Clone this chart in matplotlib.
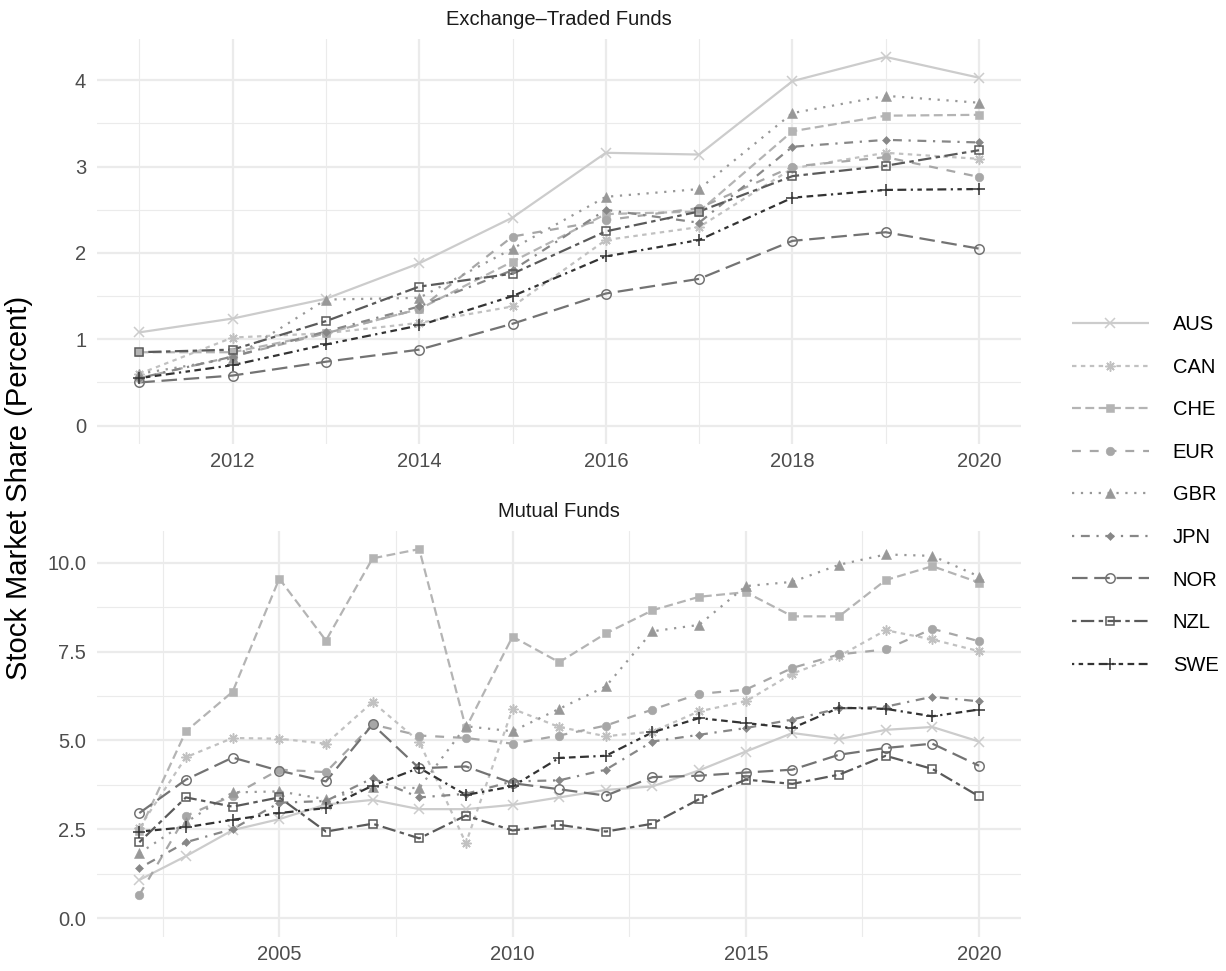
import matplotlib
matplotlib.use('Agg')
import matplotlib.pyplot as plt
from matplotlib.lines import Line2D
from matplotlib.ticker import MultipleLocator, FormatStrFormatter

plt.rcParams['font.family'] = ['Liberation Sans', 'DejaVu Sans']

COUNTRIES = ['AUS', 'CAN', 'CHE', 'EUR', 'GBR', 'JPN', 'NOR', 'NZL', 'SWE']

# Exchange-traded funds, share of stock market (percent), 2011-2020
etf_years = list(range(2011, 2021))
etf_aus = [1.08, 1.24, 1.47, 1.88, 2.41, 3.16, 3.14, 3.99, 4.27, 4.03]
etf_can = [0.60, 1.02, 1.07, 1.19, 1.38, 2.15, 2.30, 2.98, 3.16, 3.09]
etf_che = [0.85, 0.85, 1.07, 1.35, 1.90, 2.45, 2.48, 3.41, 3.59, 3.60]
etf_eur = [0.55, 0.80, 1.07, 1.35, 2.19, 2.38, 2.52, 3.00, 3.11, 2.88]
etf_gbr = [0.60, 0.78, 1.46, 1.48, 2.05, 2.65, 2.74, 3.62, 3.82, 3.74]
etf_jpn = [0.55, 0.80, 1.09, 1.38, 1.80, 2.50, 2.35, 3.23, 3.31, 3.28]
etf_nor = [0.50, 0.58, 0.74, 0.88, 1.18, 1.53, 1.70, 2.14, 2.24, 2.05]
etf_nzl = [0.85, 0.88, 1.21, 1.61, 1.76, 2.25, 2.48, 2.89, 3.01, 3.19]
etf_swe = [0.55, 0.70, 0.94, 1.16, 1.50, 1.96, 2.15, 2.64, 2.73, 2.74]

# Mutual funds, share of stock market (percent), 2002-2020
mf_years = list(range(2002, 2021))
mf_aus = [1.08, 1.75, 2.48, 2.79, 3.20, 3.33, 3.07, 3.07, 3.19, 3.40,
          3.61, 3.71, 4.16, 4.69, 5.21, 5.04, 5.30, 5.38, 4.97]
mf_can = [2.55, 4.53, 5.07, 5.05, 4.91, 6.08, 4.97, 2.11, 5.89, 5.38,
          5.12, 5.25, 5.82, 6.10, 6.88, 7.37, 8.10, 7.84, 7.51]
mf_che = [2.45, 5.26, 6.37, 9.55, 7.81, 10.12, 10.38, 5.35, 7.92, 7.20,
          8.01, 8.66, 9.04, 9.17, 8.49, 8.49, 9.51, 9.90, 9.44]
mf_eur = [0.66, 2.88, 3.45, 4.18, 4.11, 5.45, 5.14, 5.07, 4.91, 5.14,
          5.42, 5.87, 6.31, 6.43, 7.04, 7.42, 7.56, 8.14, 7.79]
mf_gbr = [1.83, 2.70, 3.54, 3.57, 3.35, 3.70, 3.66, 5.40, 5.26, 5.89,
          6.52, 8.07, 8.25, 9.34, 9.46, 9.94, 10.23, 10.19, 9.61]
mf_jpn = [1.41, 2.14, 2.51, 3.25, 3.30, 3.94, 3.40, 3.50, 3.85, 3.88,
          4.18, 4.97, 5.16, 5.35, 5.59, 5.90, 5.95, 6.23, 6.10]
mf_nor = [2.96, 3.90, 4.52, 4.15, 3.85, 5.45, 4.22, 4.27, 3.80, 3.63,
          3.45, 3.97, 4.01, 4.10, 4.18, 4.60, 4.79, 4.91, 4.29]
mf_nzl = [2.14, 3.40, 3.14, 3.40, 2.44, 2.66, 2.25, 2.89, 2.47, 2.63,
          2.44, 2.66, 3.35, 3.90, 3.78, 4.04, 4.57, 4.20, 3.43]
mf_swe = [2.44, 2.56, 2.77, 2.96, 3.10, 3.73, 4.23, 3.47, 3.71, 4.51,
          4.57, 5.23, 5.63, 5.49, 5.35, 5.92, 5.89, 5.68, 5.87]

etf_series = [etf_aus, etf_can, etf_che, etf_eur, etf_gbr, etf_jpn, etf_nor, etf_nzl, etf_swe]
mf_series = [mf_aus, mf_can, mf_che, mf_eur, mf_gbr, mf_jpn, mf_nor, mf_nzl, mf_swe]

# grey ramp from light to dark, one per country
GREYS = ['#CCCCCC', '#C1C1C1', '#B4B4B4', '#A7A7A7', '#989898',
         '#878787', '#737373', '#5A5A5A', '#333333']
DASHES = [None, (2, 2), (4, 2), (4, 4), (1, 3), (1, 3, 4, 3), (7, 3),
          (2, 2, 6, 2), (1, 2, 2, 2, 3, 2, 4, 2)]
# (marker, size, filled)
MARKERS = [('x', 6.5, False), ((8, 2, 0), 7.2, False), ('s', 6.3, True),
           ('o', 6.2, True), ('^', 7.0, True), ('D', 4.2, True),
           ('o', 6.8, False), ('s', 6.1, False), ('+', 8.0, False)]

LINE_W = 1.6
TICK_SIZE = 14.5
GRID_COLOR = '#EBEBEB'


def line_style(i):
    kw = dict(color=GREYS[i], lw=LINE_W, solid_capstyle='butt', dash_capstyle='butt',
              solid_joinstyle='round', dash_joinstyle='round')
    if DASHES[i] is None:
        kw['linestyle'] = '-'
    else:
        kw['dashes'] = DASHES[i]
    return kw


def marker_style(i):
    m, ms, filled = MARKERS[i]
    kw = dict(marker=m, markersize=ms, markeredgecolor=GREYS[i])
    if filled:
        kw.update(markerfacecolor=GREYS[i], markeredgewidth=0.4)
    else:
        kw.update(markerfacecolor='none', markeredgewidth=1.1)
    return kw


def draw_panel(ax, years, series, title, xmaj, xmin, ymaj, ymin, yfmt):
    for i, vals in enumerate(series):
        ax.plot(years, vals, zorder=2, **line_style(i))
    for i, vals in enumerate(series):
        ax.plot(years, vals, linestyle='none', zorder=3, **marker_style(i))

    hi = max(max(v) for v in series)
    ax.set_ylim(-0.05 * hi, 1.05 * hi)
    span = years[-1] - years[0]
    ax.set_xlim(years[0] - 0.05 * span, years[-1] + 0.05 * span)

    ax.xaxis.set_major_locator(MultipleLocator(xmaj))
    ax.xaxis.set_minor_locator(MultipleLocator(xmin))
    ax.yaxis.set_major_locator(MultipleLocator(ymaj))
    ax.yaxis.set_minor_locator(MultipleLocator(ymin))
    ax.yaxis.set_major_formatter(FormatStrFormatter(yfmt))
    ax.xaxis.set_major_formatter(FormatStrFormatter('%d'))

    ax.grid(True, which='major', color=GRID_COLOR, lw=1.6)
    ax.grid(True, which='minor', color=GRID_COLOR, lw=0.8)
    ax.set_axisbelow(True)
    for s in ax.spines.values():
        s.set_visible(False)
    ax.tick_params(which='both', length=0)
    ax.tick_params(axis='x', labelsize=TICK_SIZE, labelcolor='#4D4D4D', pad=6)
    ax.tick_params(axis='y', labelsize=TICK_SIZE, labelcolor='#4D4D4D', pad=8)

    ax.annotate(title, xy=(0.5, 1), xycoords='axes fraction', xytext=(0, 14),
                textcoords='offset points', ha='center', va='center',
                fontsize=TICK_SIZE, color='#1A1A1A')


fig = plt.figure(figsize=(12.26, 9.71), dpi=100)
ax_top = fig.add_axes([0.0794, 0.5427, 0.7534, 0.4176])
ax_bot = fig.add_axes([0.0794, 0.0352, 0.7534, 0.4183])

draw_panel(ax_top, etf_years, etf_series, 'Exchange\u2013Traded Funds', 2, 1, 1, 0.5, '%d')
draw_panel(ax_bot, mf_years, mf_series, 'Mutual Funds', 5, 2.5, 2.5, 1.25, '%.1f')

fig.text(0.0155, 0.4978, 'Stock Market Share (Percent)', rotation=90,
         ha='center', va='center', fontsize=21, color='black')

handles = [Line2D([], [], **line_style(i), **marker_style(i)) for i in range(len(COUNTRIES))]
fig.legend(handles, COUNTRIES, loc='center left', bbox_to_anchor=(1072 / 1226, 1 - 494.9 / 971),
           frameon=False, fontsize=TICK_SIZE, handlelength=3.8, handletextpad=1.2,
           labelspacing=1.17, borderpad=0, borderaxespad=0, numpoints=1)

fig.savefig('out.png', dpi=100, facecolor='white')
